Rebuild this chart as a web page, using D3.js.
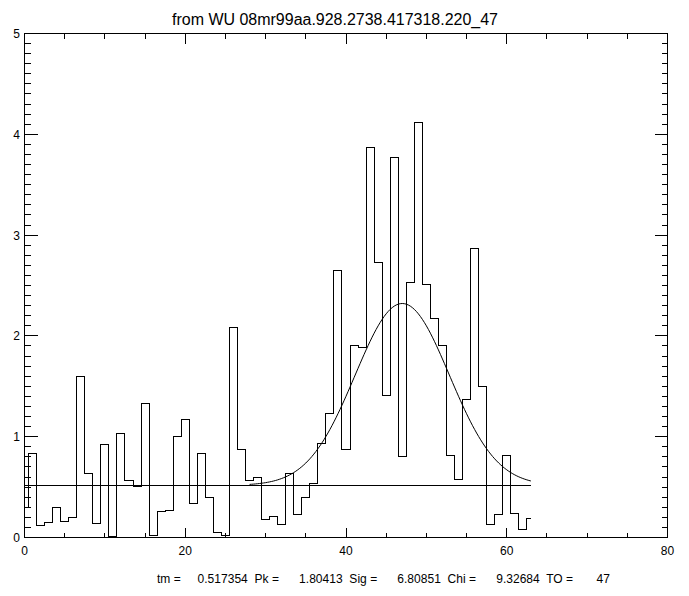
<!DOCTYPE html>
<html>
<head>
<meta charset="utf-8">
<script src="https://cdn.jsdelivr.net/npm/d3@7"></script>
<style>
  html, body { margin: 0; padding: 0; background: #fff; }
  svg { display: block; }
  text { font-family: "Liberation Sans", Arial, sans-serif; fill: #000; }
</style>
</head>
<body>
<svg id="chart" width="689" height="596"></svg>
<script>
// ---- data ----
const titleText = "from WU 08mr99aa.928.2738.417318.220_47";
const binCenters = d3.range(0, 64);
const counts = [
  0.30, 0.83, 0.12, 0.15, 0.30, 0.16, 0.20, 1.60, 0.63, 0.14,
  0.92, 0.01, 1.03, 0.57, 0.51, 1.33, 0.02, 0.26, 0.27, 1.00,
  1.17, 0.34, 0.83, 0.40, 0.05, 0.02, 2.08, 0.87, 0.57, 0.60,
  0.18, 0.21, 0.13, 0.63, 0.23, 0.40, 0.54, 0.93, 1.23, 2.65,
  0.87, 1.90, 1.88, 3.87, 2.73, 1.41, 3.77, 0.80, 2.53, 4.12,
  2.51, 2.17, 1.90, 0.81, 0.575, 1.37, 2.87, 1.50, 0.13, 0.23,
  0.81, 0.24, 0.08, 0.19
];
// fit parameters
const tm = 0.517354, pk = 1.80413, sigLabel = 6.80851, chi = 9.32684, t0 = 47;
const curveWidth = 5.86;          // width of the drawn fit curve as seen in the picture
const fitRange = [28, 63];
const baseRange = [0, 63];
const xTickLabels = [0, 20, 40, 60, 80];
const yTickLabels = [0, 1, 2, 3, 4, 5];
const footer = "tm =     0.517354  Pk =      1.80413  Sig =      6.80851  Chi =      9.32684  TO =       47";

// ---- layout ----
const svg = d3.select("#chart");
const x = d3.scaleLinear().domain([0, 80]).range([24.5, 667.5]);
const y = d3.scaleLinear().domain([0, 5]).range([537.5, 33.5]);
const g = svg.append("g").attr("shape-rendering", "crispEdges")
  .attr("stroke", "#000").attr("fill", "none").attr("stroke-width", 1);

// frame
g.append("rect").attr("x", x(0)).attr("y", y(5))
  .attr("width", x(80) - x(0)).attr("height", y(0) - y(5));

// x ticks (bottom & top)
const xMinor = d3.range(0, 80.01, 5);
xMinor.forEach(v => {
  const major = xTickLabels.includes(v);
  const len = major ? 10 : 5;
  const px = Math.round(x(v) - 0.5) + 0.5;
  g.append("line").attr("x1", px).attr("x2", px).attr("y1", y(0)).attr("y2", y(0) - len);
  g.append("line").attr("x1", px).attr("x2", px).attr("y1", y(5)).attr("y2", y(5) + len);
});
// y ticks (left & right)
const yMinor = d3.range(0, 50.5, 1).map(d => d / 10);
yMinor.forEach(v => {
  const major = Math.abs(v - Math.round(v)) < 1e-9;
  const len = major ? 13 : 6;
  const py = Math.round(y(v) - 0.5) + 0.5;
  g.append("line").attr("x1", x(0)).attr("x2", x(0) + len).attr("y1", py).attr("y2", py);
  g.append("line").attr("x1", x(80)).attr("x2", x(80) - len).attr("y1", py).attr("y2", py);
});

// tick labels
svg.selectAll(".xl").data(xTickLabels).enter().append("text")
  .attr("x", d => x(d)).attr("y", 555).attr("text-anchor", "middle")
  .attr("font-size", 12).text(d => d);
svg.selectAll(".yl").data(yTickLabels).enter().append("text")
  .attr("x", 20).attr("y", d => y(d) + 4.5).attr("text-anchor", "end")
  .attr("font-size", 12).text(d => d);

// title
svg.append("text").attr("x", 335).attr("y", 25).attr("text-anchor", "middle")
  .attr("font-size", 16).attr("textLength", 326).attr("lengthAdjust", "spacingAndGlyphs")
  .text(titleText);

// histogram (step, centred on bins)
const pts = [];
binCenters.forEach((c, i) => {
  const lo = Math.max(c - 0.5, 0), hi = Math.min(c + 0.5, 63);
  pts.push([x(lo), y(counts[i])]);
  pts.push([x(hi), y(counts[i])]);
});
const line = d3.line().x(d => Math.round(d[0] - 0.5) + 0.5).y(d => Math.round(d[1] - 0.5) + 0.5);
g.append("path").attr("d", line(pts));

// baseline
g.append("line").attr("x1", x(baseRange[0])).attr("x2", x(baseRange[1]))
  .attr("y1", Math.round(y(tm) - 0.5) + 0.5).attr("y2", Math.round(y(tm) - 0.5) + 0.5);

// fit curve
const fx = d3.range(fitRange[0], fitRange[1] + 0.001, 0.25);
const fit = d3.line().x(d => x(d)).y(d => y(tm + pk * Math.exp(-((d - t0) ** 2) / (2 * curveWidth * curveWidth))));
svg.append("path").attr("d", fit(fx)).attr("fill", "none").attr("stroke", "#000").attr("stroke-width", 1);

// footer
svg.append("text").attr("x", 157).attr("y", 583).attr("font-size", 12)
  .attr("xml:space", "preserve").style("white-space", "pre")
  .attr("textLength", 453).attr("lengthAdjust", "spacing")
  .text(footer);
</script>
</body>
</html>
